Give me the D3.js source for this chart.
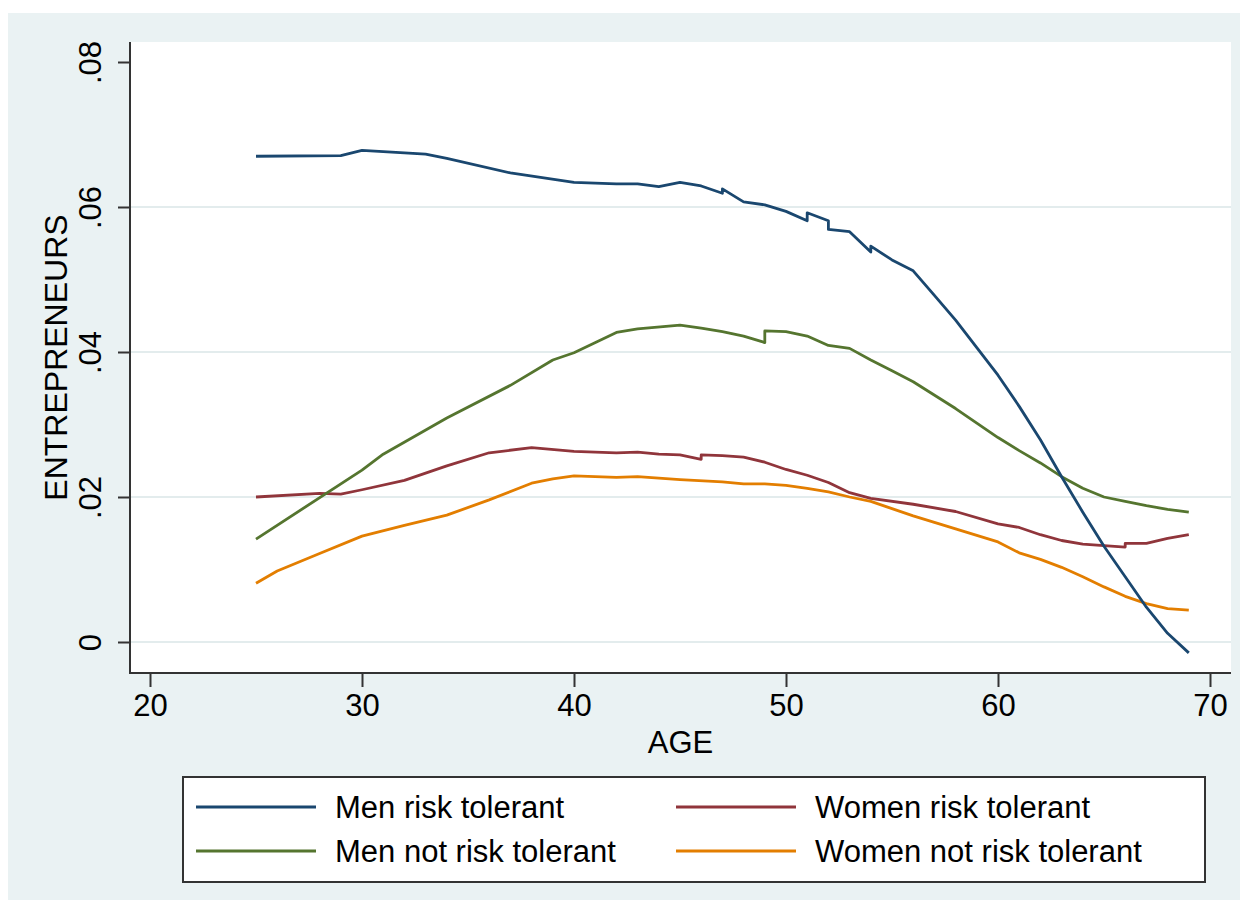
<html>
<script src="https://d3js.org/d3.v7.min.js"></script>
<style>
body{
    margin:0;
    background:#fff;
}
text{
    font-family:"Liberation Sans", Arial, sans-serif;
    fill:#000;
}
</style>
<body>
<div class="chart"></div>
</body>
<script>
const W = 1240;
const H = 905;

const seriesNames = ['Men risk tolerant', 'Women risk tolerant', 'Men not risk tolerant', 'Women not risk tolerant'];
const seriesColors = ['#1a476f', '#90353b', '#55752f', '#e37e00'];

const xTicks = [20, 30, 40, 50, 60, 70];
const yTicks = [0, 0.02, 0.04, 0.06, 0.08];
const yTickLabels = ['0', '.02', '.04', '.06', '.08'];
const gridTicks = [0, 0.02, 0.04, 0.06];

// [age, share] pairs, repeated ages are the little steps in the curves
const menRiskTolerant = [
    [25,.0670],[29,.0671],[30,.0678],[33,.0673],[34,.0667],[37,.0647],[40,.0634],[42,.0632],
    [43,.0632],[44,.0628],[45,.0634],[46,.0629],[47,.0619],[47,.0625],[48,.0607],[49,.0603],
    [50,.0594],[51,.0581],[51,.0592],[52,.0581],[52,.0569],[53,.0566],[54,.0538],[54,.0546],
    [55,.0527],[56,.0512],[57,.0478],[58,.0444],[59,.0406],[60,.0368],[61,.0325],[62,.0279],
    [63,.0228],[64,.0179],[65,.0132],[66,.0090],[67,.0048],[68,.0012],[69,-.0015]
];
const womenRiskTolerant = [
    [25,.0200],[28,.0205],[29,.0204],[30,.0210],[32,.0223],[34,.0243],[36,.0261],[38,.0268],
    [40,.0263],[42,.0261],[43,.0262],[44,.0259],[45,.0258],[46,.0252],[46,.0258],[47,.0257],
    [48,.0255],[49,.0248],[50,.0238],[51,.0230],[52,.0220],[53,.0206],[54,.0198],[56,.0190],
    [58,.0180],[60,.0163],[61,.0158],[62,.0148],[63,.0140],[64,.0135],[65,.0133],[66,.0131],
    [66,.0136],[67,.0136],[68,.0143],[69,.0148]
];
const menNotRiskTolerant = [
    [25,.0142],[30,.0237],[31,.0259],[34,.0309],[37,.0354],[39,.0389],[40,.0399],[42,.0427],
    [43,.0432],[45,.0437],[46,.0433],[47,.0428],[48,.0422],[49,.0413],[49,.0429],[50,.0428],
    [51,.0422],[52,.0409],[53,.0405],[54,.0389],[55,.0374],[56,.0359],[58,.0322],[59,.0302],
    [60,.0282],[61,.0264],[62,.0247],[63,.0228],[64,.0212],[65,.0200],[66,.0194],[67,.0188],
    [68,.0183],[69,.0179]
];
const womenNotRiskTolerant = [
    [25,.0081],[26,.0098],[28,.0122],[30,.0146],[32,.0161],[34,.0175],[36,.0196],[38,.0219],
    [39,.0225],[40,.0229],[42,.0227],[43,.0228],[45,.0224],[47,.0221],[48,.0218],[49,.0218],
    [50,.0216],[51,.0212],[52,.0207],[53,.0200],[54,.0194],[55,.0184],[56,.0174],[57,.0165],
    [58,.0156],[60,.0138],[61,.0123],[62,.0114],[63,.0103],[64,.0090],[65,.0076],[66,.0063],
    [67,.0053],[68,.0046],[69,.0044]
];

const seriesData = [menRiskTolerant, womenRiskTolerant, menNotRiskTolerant, womenNotRiskTolerant];
// drawing order: men risk tolerant on top
const drawOrder = [3, 1, 2, 0];

const plot = {left: 130, right: 1231, top: 42, bottom: 673};
const fontSize = '31px';

const xScale = d3.scaleLinear()
    .domain([20, 70])
    .range([150, 1210]);

const yScale = d3.scaleLinear()
    .domain([0, 0.08])
    .range([642, 62]);

const svg = d3.select('.chart')
    .append('svg')
        .attr('width', W)
        .attr('height', H);

svg.append('rect')
    .attr('x', 8)
    .attr('y', 13)
    .attr('width', W - 8)
    .attr('height', H - 18)
    .attr('fill', '#eaf2f3');

svg.append('rect')
    .attr('x', plot.left)
    .attr('y', plot.top)
    .attr('width', plot.right - plot.left)
    .attr('height', plot.bottom - plot.top)
    .attr('fill', '#fff');

svg.append('g')
    .selectAll('line')
    .data(gridTicks)
    .enter()
    .append('line')
        .attr('x1', plot.left)
        .attr('x2', plot.right)
        .attr('y1', d => yScale(d))
        .attr('y2', d => yScale(d))
        .attr('stroke', '#e3eced')
        .attr('stroke-width', 2);

const line = d3.line()
    .x(d => xScale(d[0]))
    .y(d => yScale(d[1]));

svg.append('g')
    .selectAll('path')
    .data(drawOrder)
    .enter()
    .append('path')
        .attr('d', i => line(seriesData[i]))
        .attr('fill', 'none')
        .attr('stroke', i => seriesColors[i])
        .attr('stroke-width', 2.8)
        .attr('stroke-linejoin', 'round');

// y axis
svg.append('g')
    .attr('transform', `translate(${plot.left},0)`)
    .call(d3.axisLeft(yScale)
        .tickValues(yTicks)
        .tickFormat((d, i) => yTickLabels[i])
        .tickSize(12)
        .tickSizeOuter(0))
    .call(g => {
        g.select('.domain').remove();
        g.append('line')
            .attr('y1', plot.top)
            .attr('y2', plot.bottom)
            .attr('stroke', '#333')
            .attr('stroke-width', 2);
        g.selectAll('.tick line')
            .attr('stroke', '#333')
            .attr('stroke-width', 2);
        g.selectAll('.tick text')
            .attr('transform', 'rotate(-90)')
            .attr('x', 0)
            .attr('y', -40)
            .attr('dy', null)
            .attr('dominant-baseline', 'central')
            .attr('text-anchor', 'middle')
            .style('font-size', fontSize)
            .style('font-family', '"Liberation Sans", Arial, sans-serif')
            .attr('fill', '#000');
    });

// x axis
svg.append('g')
    .attr('transform', `translate(0,${plot.bottom})`)
    .call(d3.axisBottom(xScale)
        .tickValues(xTicks)
        .tickSize(14)
        .tickPadding(7)
        .tickSizeOuter(0))
    .call(g => {
        g.select('.domain').remove();
        g.append('line')
            .attr('x1', plot.left - 1)
            .attr('x2', plot.right)
            .attr('stroke', '#333')
            .attr('stroke-width', 2);
        g.selectAll('.tick line')
            .attr('stroke', '#333')
            .attr('stroke-width', 2);
        g.selectAll('.tick text')
            .style('font-size', fontSize)
            .style('font-family', '"Liberation Sans", Arial, sans-serif')
            .attr('fill', '#000');
    });

svg.append('text')
    .attr('x', (plot.left + plot.right) / 2)
    .attr('y', 742)
    .attr('dominant-baseline', 'central')
    .attr('text-anchor', 'middle')
    .style('font-size', fontSize)
    .text('AGE');

svg.append('text')
    .attr('transform', `translate(56,${(plot.top + plot.bottom) / 2}) rotate(-90)`)
    .attr('dominant-baseline', 'central')
    .attr('text-anchor', 'middle')
    .style('font-size', '32px')
    .text('ENTREPRENEURS');

// legend
const legend = svg.append('g');

legend.append('rect')
    .attr('x', 183)
    .attr('y', 777)
    .attr('width', 1022)
    .attr('height', 105)
    .attr('fill', '#fff')
    .attr('stroke', '#333')
    .attr('stroke-width', 2);

const legendCols = [196, 676];
const legendRows = [807, 851];

legend.selectAll('g')
    .data(seriesNames)
    .enter()
    .append('g')
        .attr('transform', (d, i) => `translate(${legendCols[i % 2]},${legendRows[Math.floor(i / 2)]})`)
    .call(g => {
        g.append('line')
            .attr('x1', 0)
            .attr('x2', 120)
            .attr('stroke', (d, i) => seriesColors[i])
            .attr('stroke-width', 2.8);
        g.append('text')
            .attr('x', 139)
            .attr('dominant-baseline', 'central')
            .style('font-size', fontSize)
            .text(d => d);
    });
</script>
</html>
